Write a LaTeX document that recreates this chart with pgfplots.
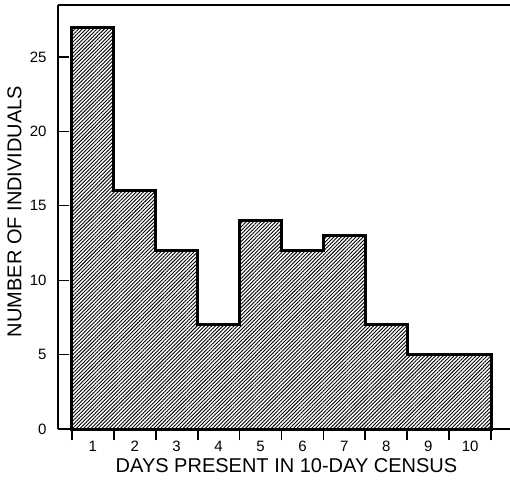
\documentclass[border=0pt]{standalone}
\usepackage{fontspec}
\setmainfont{Liberation Sans}
\usepackage{pgfplots}
\pgfplotsset{compat=1.18}
\usetikzlibrary{patterns.meta}

\begin{document}
\begin{tikzpicture}
\useasboundingbox (-29pt,-25pt) rectangle (226pt,214.5pt);
\begin{axis}[
  scale only axis,width=226pt,height=212pt,
  xmin=0.17,xmax=10.95,ymin=0,ymax=28.5,
  axis x line*=box,axis y line*=left,
  axis line style={line width=0.7pt},
  xtick={0.5,1.5,...,10.5},xticklabels={1,2,3,4,5,6,7,8,9,10},
  x tick label as interval,xtick pos=bottom,
  ytick={0,5,...,25},ytick pos=left,
  tick align=outside,major tick length=5.5pt,
  x tick style={line width=0.9pt,black},
  y tick style={line width=0.6pt,black,xshift=5.5pt},
  /pgf/number format/assume math mode=true,
  tick label style={font=\fontsize{7.5}{9}\selectfont},
  xticklabel style={yshift=2.8pt},
  yticklabel style={xshift=3.3pt},
  label style={font=\fontsize{10}{12}\selectfont},
  xlabel={DAYS PRESENT IN 10-DAY CENSUS},
  ylabel={NUMBER OF INDIVIDUALS},
  every axis x label/.style={at={([xshift=1.25pt,yshift=-18.25pt]axis description cs:0.5,0)},anchor=center},
  every axis y label/.style={at={([xshift=-21.75pt,yshift=2.75pt]axis description cs:0,0.5)},anchor=center,rotate=90},
  clip=false]
\addplot[const plot,draw=black,line width=1.5pt,
  pattern={Lines[angle=45,distance=1.3pt,line width=0.45pt]}]
  coordinates {(0.5,27) (1.5,16) (2.5,12) (3.5,7) (4.5,14) (5.5,12) (6.5,13) (7.5,7) (8.5,5) (9.5,5) (10.5,5)} \closedcycle;
\end{axis}
\end{tikzpicture}
\end{document}
